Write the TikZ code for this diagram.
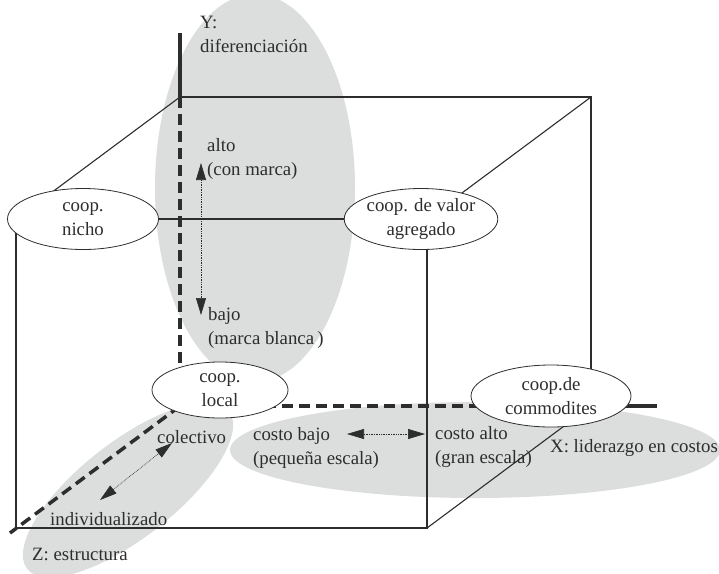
\documentclass[tikz,border=0pt]{standalone}
\usepackage{fontspec}
\setmainfont{Liberation Serif}
\usetikzlibrary{shapes.geometric,arrows.meta}
\definecolor{grayfill}{RGB}{220,221,221}
\definecolor{ink}{RGB}{45,45,45}
\begin{document}
\begin{tikzpicture}[x=1pt,y=-1pt,
  font=\fontsize{18.8}{24}\selectfont,
  coop/.style={ellipse, draw=ink, line width=0.8pt, fill=white, inner sep=0pt, align=center, text=ink},
  cubeedge/.style={draw=ink, line width=1.1pt},
  axisdash/.style={draw=ink, line width=3.5pt, dash pattern=on 11pt off 6pt},
  axissolid/.style={draw=ink, line width=3.5pt},
  lbl/.style={anchor=west, align=left, inner sep=0pt, text=ink},
  dotarrow/.style={draw=ink, densely dotted, line width=0.7pt,
    {Triangle[length=17pt,width=10pt]}-{Triangle[length=17pt,width=10pt]}}]
\useasboundingbox (0,0) rectangle (719,573);
% shaded regions
\fill[grayfill] (255,188) ellipse (100 and 194);
\fill[grayfill] (475,450) ellipse (245 and 48);
\fill[grayfill, rotate around={38:(128,490)}] (128,490) ellipse (128 and 48);
% cube corners
\coordinate (ftl) at (16,219);
\coordinate (ftr) at (427,219);
\coordinate (fbl) at (16,528);
\coordinate (fbr) at (427,528);
\coordinate (btl) at (180,97);
\coordinate (btr) at (591,97);
\coordinate (bbl) at (180,406);
\coordinate (bbr) at (591,406);
\coordinate (ytop) at (180,33);
\coordinate (xend) at (657,406);
\coordinate (zend) at (10,533);
% cube edges
\draw[cubeedge] (ftl) -- (ftr) -- (fbr) -- (fbl) -- cycle;
\draw[cubeedge] (btl) -- (btr) -- (bbr);
\draw[cubeedge] (ftl) -- (btl);
\draw[cubeedge] (ftr) -- (btr);
\draw[cubeedge] (fbr) -- (bbr);
% axes
\draw[axissolid] (ytop) -- (btl);
\draw[axisdash] (btl) -- (bbl);
\draw[axisdash] (bbl) -- (bbr);
\draw[axissolid] (bbr) -- (xend);
\draw[axisdash] (bbl) -- (zend);
% cooperative nodes
\node[coop, minimum width=151pt, minimum height=61pt] (nicho) at (83,219) {coop.\\nicho};
\node[coop, minimum width=151pt, minimum height=61pt] (valor) at (421,219) {coop. de valor\\agregado};
\node[coop, minimum width=136pt, minimum height=56pt] (local) at (220,390) {coop.\\local};
\node[coop, minimum width=160pt, minimum height=62pt] (commod) at (551,396) {coop.de\\commodites};
% labels
\node[lbl] (ylab) at (200,34) {Y:\\diferenciación};
\node[lbl] (alto) at (207,159) {alto\\(con marca)};
\node[lbl] (bajo) at (208,328) {bajo\\(marca blanca\,)};
\node[lbl] (cbajo) at (253,448) {costo bajo\\(pequeña escala)};
\node[lbl] (calto) at (435,447) {costo alto\\(gran escala)};
\node[lbl] (xlab) at (550,448) {X: liderazgo en costos};
\node[lbl] (colect) at (157,437) {colectivo};
\node[lbl] (indiv) at (50,519) {individualizado};
\node[lbl] (zlab) at (32,554) {Z: estructura};
% dotted double arrows
\coordinate (yup) at (201,163);
\coordinate (ydn) at (201,315);
\coordinate (xl) at (347,434);
\coordinate (xr) at (425,434);
\coordinate (zu) at (172,443);
\coordinate (zd) at (100,500);
\draw[dotarrow] (ydn) -- (yup);
\draw[dotarrow] (xl) -- (xr);
\draw[dotarrow] (zd) -- (zu);
\end{tikzpicture}
\end{document}
